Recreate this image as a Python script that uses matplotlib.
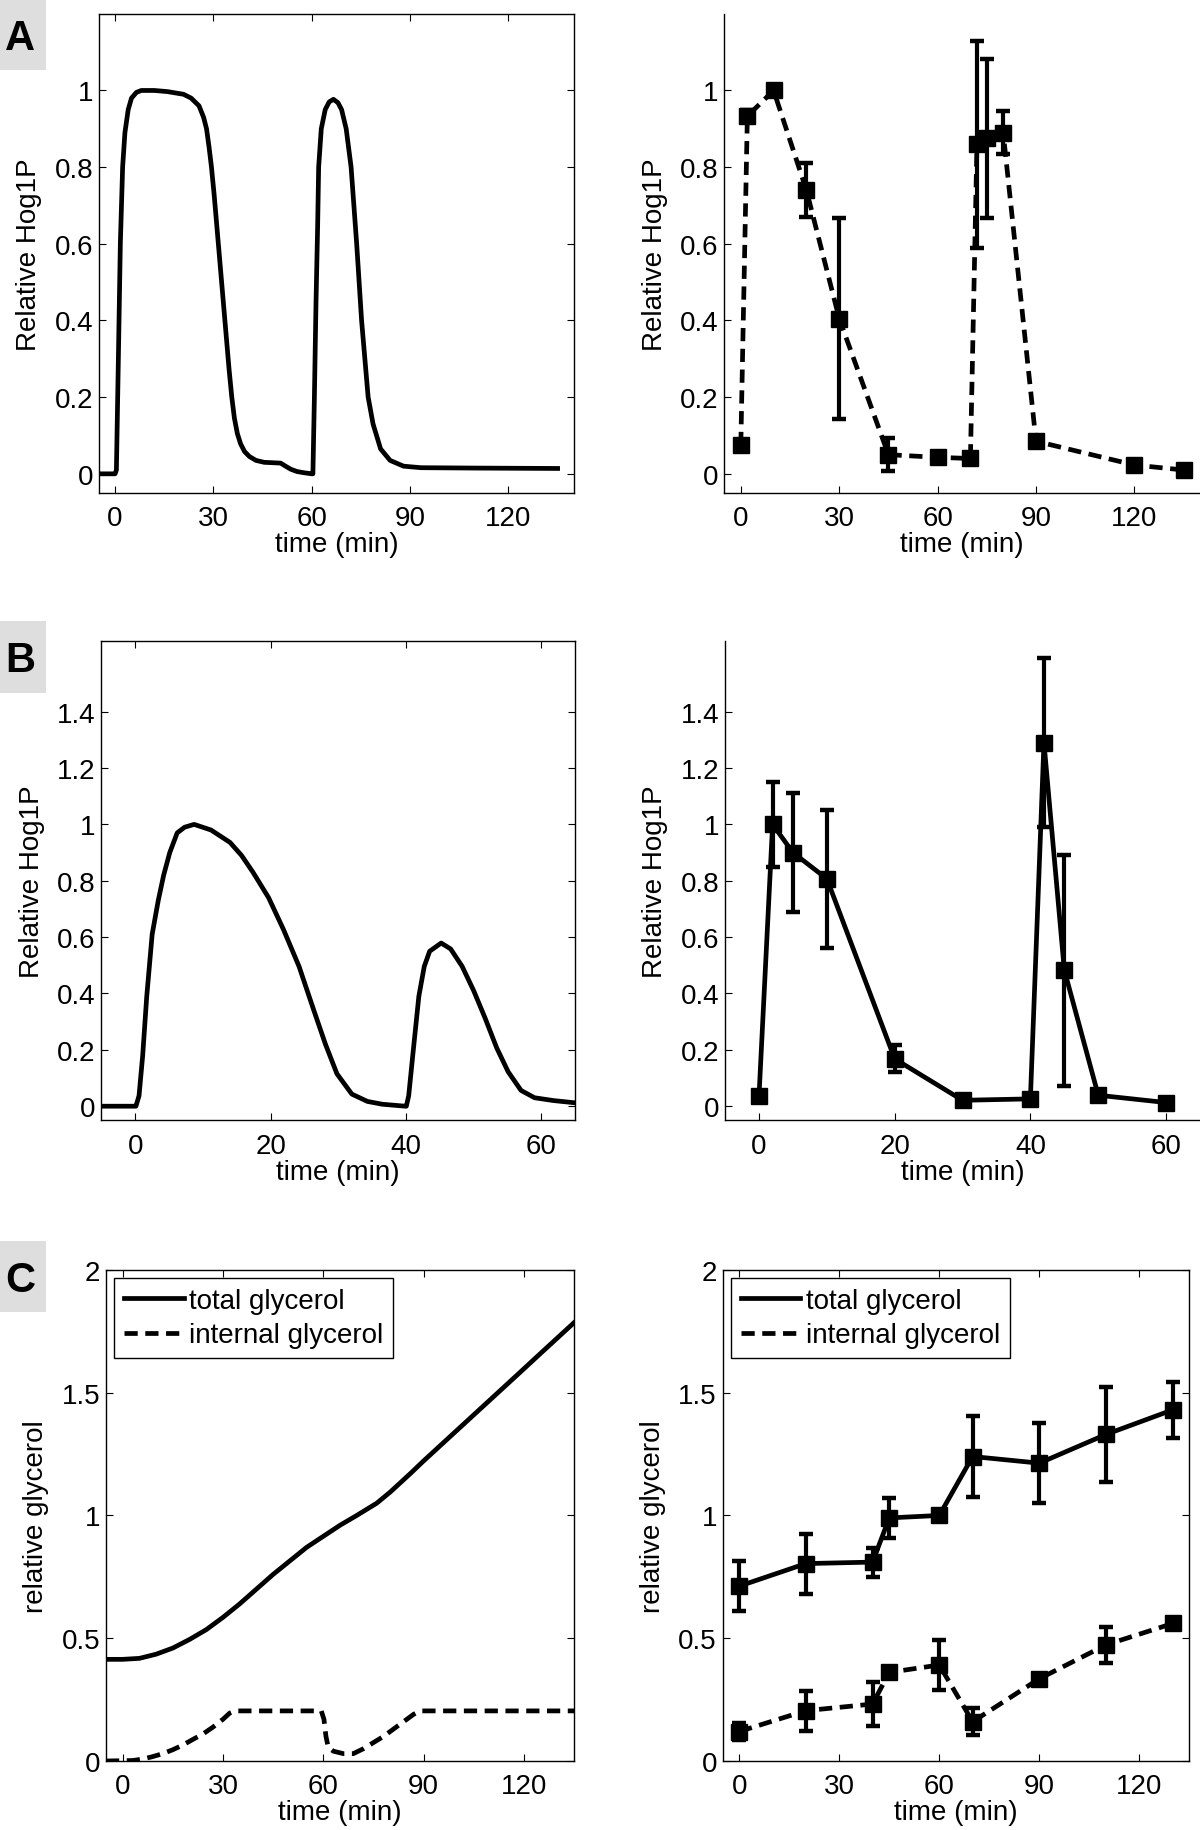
import matplotlib
matplotlib.use("Agg")
import matplotlib.pyplot as plt
from matplotlib.patches import Rectangle
from matplotlib.lines import Line2D

plt.rcParams['font.family'] = ['Liberation Sans', 'DejaVu Sans']
plt.rcParams['font.size'] = 20

# ---- panel A, model (left)
sim_a_t = [-5, 0, 0.4, 1.0, 1.6, 2.3, 3.0, 4.0, 5.0, 6.5, 8, 12, 16, 20.9, 23.2, 25.6, 27.0, 27.9,
           28.7, 29.4, 30.2, 31.0, 31.8, 32.6, 33.3, 34.0, 34.8, 35.6, 36.4, 37.3, 38.3, 39.5,
           41.0, 43.0, 45.5, 48, 50.5, 52, 53.6, 55.5, 57.5, 60.0, 60.35, 60.8, 61.3, 61.8, 62.1,
           62.9, 64.1, 65.3, 66.6, 68.0, 69.1, 70.5, 72.0, 73.7, 75.2, 77.2, 78.7, 81.0, 83.9,
           88.0, 93.3, 110, 135]
sim_a_v = [0, 0, 0.01, 0.3, 0.6, 0.8, 0.89, 0.95, 0.98, 0.995, 1.0, 1.0, 0.997, 0.99, 0.98, 0.96,
           0.93, 0.9, 0.85, 0.8, 0.73, 0.65, 0.57, 0.49, 0.42, 0.35, 0.27, 0.2, 0.145, 0.105,
           0.078, 0.058, 0.045, 0.035, 0.03, 0.029, 0.028, 0.02, 0.012, 0.006, 0.003, 0.0, 0.0,
           0.2, 0.45, 0.65, 0.8, 0.9, 0.95, 0.97, 0.977, 0.968, 0.95, 0.9, 0.8, 0.6, 0.4, 0.2,
           0.13, 0.065, 0.035, 0.02, 0.016, 0.015, 0.014]

# ---- panel A, data (right)
exp_a_t = [0, 2, 10, 20, 30, 45, 60, 70, 72, 75, 80, 90, 120, 135]
exp_a_v = [0.075, 0.933, 1.0, 0.74, 0.405, 0.05, 0.043, 0.04, 0.86, 0.875, 0.89, 0.085, 0.023, 0.01]
exp_a_err = [0, 0.015, 0, 0.07, 0.263, 0.043, 0, 0, 0.27, 0.207, 0.057, 0, 0, 0]

# ---- panel B, model (left)
sim_b_t = [-5, 0, 0.1, 0.56, 1.1, 1.7, 2.5, 3.4, 4.2, 5.1, 6.2, 7.3, 8.7, 11.2, 14.0, 15.7, 17.4,
           19.7, 21.9, 24.2, 26.4, 28.1, 29.8, 32.0, 34.3, 36.5, 39.9, 40.05, 40.4, 41.0, 41.9,
           42.7, 43.5, 45.2, 46.6, 48.3, 50.0, 51.7, 53.4, 55.1, 57.0, 59.0, 61.8, 65]
sim_b_v = [0, 0, 0, 0.037, 0.18, 0.39, 0.61, 0.73, 0.82, 0.9, 0.97, 0.99, 1.0, 0.98, 0.936, 0.89,
           0.83, 0.74, 0.627, 0.496, 0.339, 0.22, 0.115, 0.043, 0.017, 0.007, 0.0, 0.0, 0.037,
           0.18, 0.39, 0.496, 0.55, 0.579, 0.558, 0.496, 0.41, 0.312, 0.207, 0.122, 0.056, 0.03,
           0.02, 0.012]

# ---- panel B, data (right)
exp_b_t = [0, 2, 5, 10, 20, 30, 40, 42, 45, 50, 60]
exp_b_v = [0.037, 1.0, 0.90, 0.807, 0.168, 0.021, 0.026, 1.29, 0.483, 0.039, 0.013]
exp_b_err = [0, 0.15, 0.21, 0.245, 0.048, 0, 0, 0.30, 0.41, 0, 0]

# ---- panel C, model (left)
sim_c_t = [-5, 0, 5, 10, 15, 20, 25, 30, 35, 40, 45, 50, 55, 60, 65, 70, 76, 80, 86, 90, 100,
           110, 118, 125, 135]
sim_c_total = [0.414, 0.414, 0.418, 0.435, 0.46, 0.495, 0.535, 0.585, 0.64, 0.70, 0.76, 0.815,
               0.87, 0.915, 0.96, 1.0, 1.05, 1.095, 1.17, 1.222, 1.347, 1.472, 1.572, 1.66, 1.785]
sim_c_int_t = [-5, 3, 6, 9, 12, 15, 18, 21, 24, 27, 30, 32, 33.5, 59.4, 60.2, 60.8, 61.5, 63, 66,
               69, 72, 75, 78, 81, 84, 87, 89, 135]
sim_c_int = [0, 0.002, 0.008, 0.018, 0.03, 0.046, 0.065, 0.088, 0.11, 0.138, 0.17, 0.195, 0.204,
             0.204, 0.17, 0.10, 0.055, 0.04, 0.03, 0.03, 0.05, 0.075, 0.1, 0.13, 0.16, 0.19,
             0.204, 0.204]

# ---- panel C, data (right)
exp_c_t = [0, 20, 40, 45, 60, 70, 90, 110, 130]
exp_c_total = [0.712, 0.804, 0.81, 0.99, 1.0, 1.24, 1.213, 1.33, 1.43]
exp_c_total_err = [0.102, 0.122, 0.059, 0.083, 0, 0.165, 0.162, 0.192, 0.113]
exp_c_int = [0.12, 0.205, 0.232, 0.361, 0.391, 0.16, 0.335, 0.473, 0.56]
exp_c_int_err = [0.035, 0.082, 0.09, 0.015, 0.101, 0.056, 0.015, 0.073, 0.02]

W, H = 1200, 1831
fig = plt.figure(figsize=(W / 100, H / 100), dpi=100)


def add_ax(left, top, right, bottom):
    return fig.add_axes([left / W, 1 - bottom / H, (right - left) / W, (bottom - top) / H])


LW = 3.4
DASH = (0, (2.8, 1.6))
ebkw = dict(color='black', marker='s', ms=11.5, lw=LW, elinewidth=3.0, capsize=5, capthick=3.2)


def style_common(ax, ylab):
    ax.tick_params(axis='x', direction='in', length=5, width=0.8, labelsize=20, pad=9)
    ax.tick_params(axis='y', direction='in', length=5, width=0.8, labelsize=20, pad=4)
    ax.set_xlabel('time (min)', labelpad=0)
    ax.set_ylabel(ylab, labelpad=9)
    for s in ax.spines.values():
        s.set_linewidth(1.0)


def style_box(ax, ylab):
    style_common(ax, ylab)
    ax.tick_params(top=True, right=True)


def style_open(ax, ylab):
    style_common(ax, ylab)
    ax.spines['top'].set_visible(False)
    ax.spines['right'].set_visible(False)


A_TOP, A_BOT = 14.8, 494
B_TOP, B_BOT = 642.2, 1121.3
C_TOP, C_BOT = 1270.9, 1762

# A left
ax = add_ax(98.7, A_TOP, 574, A_BOT)
ax.plot(sim_a_t, sim_a_v, color='black', lw=LW)
ax.set_xlim(-5, 140)
ax.set_ylim(-0.05, 1.2)
ax.set_xticks([0, 30, 60, 90, 120])
ax.set_yticks([0, 0.2, 0.4, 0.6, 0.8, 1])
ax.set_yticklabels(['0', '0.2', '0.4', '0.6', '0.8', '1'])
style_box(ax, 'Relative Hog1P')

# A right
ax = add_ax(724.4, A_TOP, 1200, A_BOT)
ax.errorbar(exp_a_t, exp_a_v, yerr=exp_a_err, ls=DASH, **ebkw)
ax.set_xlim(-5, 140)
ax.set_ylim(-0.05, 1.2)
ax.set_xticks([0, 30, 60, 90, 120])
ax.set_yticks([0, 0.2, 0.4, 0.6, 0.8, 1])
ax.set_yticklabels(['0', '0.2', '0.4', '0.6', '0.8', '1'])
style_open(ax, 'Relative Hog1P')

# B left
ax = add_ax(101.4, B_TOP, 575.2, B_BOT)
ax.plot(sim_b_t, sim_b_v, color='black', lw=LW)
ax.set_xlim(-5, 65)
ax.set_ylim(-0.05, 1.65)
ax.set_xticks([0, 20, 40, 60])
ax.set_yticks([0, 0.2, 0.4, 0.6, 0.8, 1, 1.2, 1.4])
ax.set_yticklabels(['0', '0.2', '0.4', '0.6', '0.8', '1', '1.2', '1.4'])
style_box(ax, 'Relative Hog1P')

# B right
ax = add_ax(725.1, B_TOP, 1200, B_BOT)
ax.errorbar(exp_b_t, exp_b_v, yerr=exp_b_err, ls='-', **ebkw)
ax.set_xlim(-5, 65)
ax.set_ylim(-0.05, 1.65)
ax.set_xticks([0, 20, 40, 60])
ax.set_yticks([0, 0.2, 0.4, 0.6, 0.8, 1, 1.2, 1.4])
ax.set_yticklabels(['0', '0.2', '0.4', '0.6', '0.8', '1', '1.2', '1.4'])
style_open(ax, 'Relative Hog1P')

legend_handles = [Line2D([], [], color='black', lw=LW),
                  Line2D([], [], color='black', lw=LW, ls=DASH)]
legend_labels = ['total glycerol', 'internal glycerol']
legkw = dict(loc='upper left', fontsize=20, fancybox=False, edgecolor='black',
             handlelength=2.15, handletextpad=0.2, borderpad=0.35, labelspacing=0.3,
             borderaxespad=0.3, framealpha=1)

# C left
ax = add_ax(106, C_TOP, 574, C_BOT)
ax.plot(sim_c_t, sim_c_total, color='black', lw=LW)
ax.plot(sim_c_int_t, sim_c_int, color='black', lw=LW, ls=DASH)
ax.set_xlim(-5, 135)
ax.set_ylim(0, 2)
ax.set_xticks([0, 30, 60, 90, 120])
ax.set_yticks([0, 0.5, 1, 1.5, 2])
ax.set_yticklabels(['0', '0.5', '1', '1.5', '2'])
leg = ax.legend(legend_handles, legend_labels, **legkw)
leg.get_frame().set_linewidth(1.0)
style_box(ax, 'relative glycerol')

# C right
ax = add_ax(722.5, C_TOP, 1189.4, C_BOT)
ax.errorbar(exp_c_t, exp_c_total, yerr=exp_c_total_err, ls='-', **ebkw)
ax.errorbar(exp_c_t, exp_c_int, yerr=exp_c_int_err, ls=DASH, **ebkw)
ax.set_xlim(-5, 135)
ax.set_ylim(0, 2)
ax.set_xticks([0, 30, 60, 90, 120])
ax.set_yticks([0, 0.5, 1, 1.5, 2])
ax.set_yticklabels(['0', '0.5', '1', '1.5', '2'])
leg = ax.legend(legend_handles, legend_labels, **legkw)
leg.get_frame().set_linewidth(1.0)
style_box(ax, 'relative glycerol')

# panel letters on grey tabs
for letter, y0, y1 in [('A', 0, 71), ('B', 622, 694), ('C', 1242, 1313)]:
    fig.add_artist(Rectangle((0, 1 - y1 / H), 46 / W, (y1 - y0) / H, transform=fig.transFigure,
                             facecolor='#dedede', edgecolor='none'))
    fig.text(20 / W, 1 - ((y0 + y1) / 2 + 3) / H, letter, fontsize=30, fontweight='bold',
             ha='center', va='center')

fig.savefig('out.png', dpi=100)
